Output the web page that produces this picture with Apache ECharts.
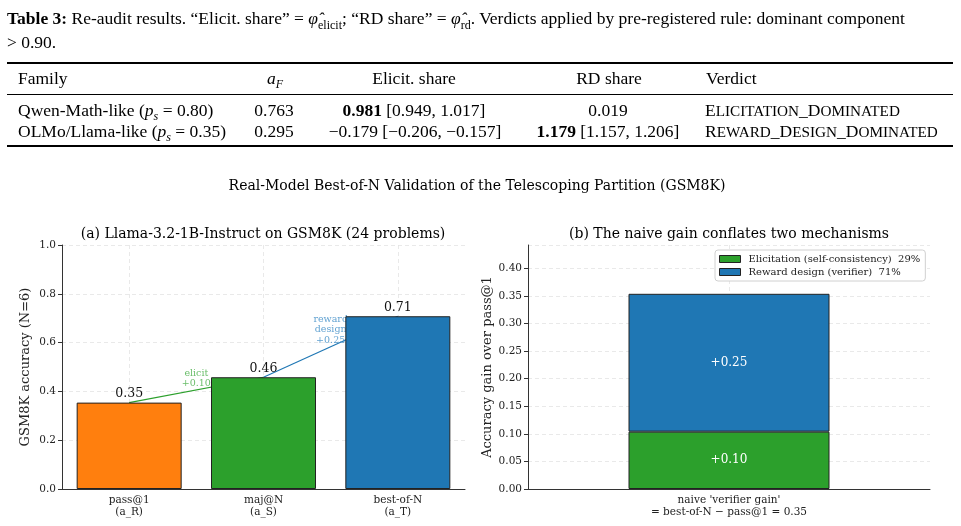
<!DOCTYPE html>
<html>
<head>
<meta charset="utf-8">
<script src="https://cdn.jsdelivr.net/npm/echarts@6/dist/echarts.min.js"></script>
<style>
  body { margin: 0; background: #fff; }
  #main { position: absolute; left: 0; top: 0; width: 961px; height: 526px; }
  #tbl { position: absolute; left: 0; top: 0; width: 961px; height: 160px; font-family: 'Liberation Serif', serif; font-size: 17.5px; color: #000; z-index: 2; }
  #tbl .cap { position: absolute; left: 7px; top: 6px; width: 950px; line-height: 24px; }
  #tbl .rule { position: absolute; left: 7px; width: 946px; background: #000; }
  #tbl .c { position: absolute; white-space: nowrap; transform: translate(-50%, -50%); }
  #tbl .l { position: absolute; white-space: nowrap; transform: translateY(-50%); }
  #tbl sub { font-size: 12px; line-height: 0; }
  .sm { font-size: 0.87em; }
</style>
</head>
<body>
<div id="main"></div>
<div id="tbl">
  <div class="cap"><b>Table 3:</b> Re-audit results. “Elicit. share” = <i>φ̂</i><sub>elicit</sub>; “RD share” = <i>φ̂</i><sub>rd</sub>. Verdicts applied by pre-registered rule: dominant component<br>&gt; 0.90.</div>
  <div class="rule" style="top:62px;height:2px"></div>
  <div class="l" style="left:18px;top:78px">Family</div>
  <div class="c" style="left:275px;top:78px"><i>a<sub>F</sub></i></div>
  <div class="c" style="left:414px;top:78px">Elicit. share</div>
  <div class="c" style="left:609px;top:78px">RD share</div>
  <div class="l" style="left:706px;top:78px">Verdict</div>
  <div class="rule" style="top:94px;height:1px"></div>
  <div class="l" style="left:18px;top:110px">Qwen-Math-like (<i>p<sub>s</sub></i> = 0.80)</div>
  <div class="c" style="left:274px;top:110px">0.763</div>
  <div class="c" style="left:414px;top:110px"><b>0.981</b> [0.949, 1.017]</div>
  <div class="c" style="left:608px;top:110px">0.019</div>
  <div class="l" style="left:705px;top:110px">E<span class="sm">LICITATION</span>_D<span class="sm">OMINATED</span></div>
  <div class="l" style="left:18px;top:131px">OLMo/Llama-like (<i>p<sub>s</sub></i> = 0.35)</div>
  <div class="c" style="left:274px;top:131px">0.295</div>
  <div class="c" style="left:415px;top:131px">−0.179 [−0.206, −0.157]</div>
  <div class="c" style="left:608px;top:131px"><b>1.179</b> [1.157, 1.206]</div>
  <div class="l" style="left:705px;top:131px">R<span class="sm">EWARD</span>_D<span class="sm">ESIGN</span>_D<span class="sm">OMINATED</span></div>
  <div class="rule" style="top:145px;height:2px"></div>
</div>
<script>
// panel (a): accuracy per decoding rule
var accCategories = ['pass@1\n(a_R)', 'maj@N\n(a_S)', 'best-of-N\n(a_T)'];
var accValues = [0.354, 0.458, 0.708];
var accColors = ['#ff7f0e', '#2ca02c', '#1f77b4'];

// annotations between bars
var elicitLine = [[0, 0.354], [1, 0.458]];
var rdLine = [[1, 0.458], [2, 0.708]];
var annotPoints = [[0.5, 0.406], [1.5, 0.583]];
var annotTexts = ['elicit\n+0.10', 'reward\ndesign\n+0.25'];

// panel (b): decomposition of the naive gain
var gainCategory = ["naive 'verifier gain'\n= best-of-N \u2212 pass@1 = 0.35"];
var elicitGain = [0.104];
var rdGain = [0.25];
var gainNames = ['Elicitation (self-consistency)', 'Reward design (verifier)'];

var serif = 'DejaVu Serif';
var axisCol = '#333';
var gridStyle = { color: '#e3e3e3', type: [4, 3], width: 0.8 };
var tickFont = 10.5;

var total = elicitGain[0] + rdGain[0];
var pct = {};
pct[gainNames[0]] = Math.round(elicitGain[0] / total * 100);
pct[gainNames[1]] = Math.round(rdGain[0] / total * 100);

function catAxis(grid, data) {
    return {
        type: 'category', gridIndex: grid, data: data,
        axisLine: { lineStyle: { color: axisCol, width: 1 } },
        axisTick: { alignWithLabel: true, length: 4, lineStyle: { color: axisCol } },
        axisLabel: { fontSize: tickFont, color: '#222', margin: 5, lineHeight: 12 },
        splitLine: { show: true, alignWithLabel: true, lineStyle: gridStyle }
    };
}

function valAxis(grid, max, step, digits, name, gap) {
    return {
        type: 'value', gridIndex: grid, min: 0, max: max, interval: step,
        name: name, nameLocation: 'middle', nameGap: gap,
        nameTextStyle: { fontSize: 13, color: '#222' },
        axisLine: { show: true, onZero: false, lineStyle: { color: axisCol, width: 1 } },
        axisTick: { show: true, length: 4, lineStyle: { color: axisCol } },
        axisLabel: { fontSize: tickFont, color: '#222', margin: 6, showMaxLabel: digits === 1,
            formatter: function (v) { return v.toFixed(digits); } },
        splitLine: { show: true, lineStyle: gridStyle }
    };
}

var chart = echarts.init(document.getElementById('main'));
var option = {
    animation: false,
    textStyle: { fontFamily: serif },
    graphic: [
        { type: 'text', style: { x: 477, y: 186, text: 'Real-Model Best-of-N Validation of the Telescoping Partition (GSM8K)', font: '14px "DejaVu Serif"', fill: '#000', align: 'center', verticalAlign: 'middle' } },
        { type: 'text', style: { x: 263, y: 234, text: '(a) Llama-3.2-1B-Instruct on GSM8K (24 problems)', font: '14px "DejaVu Serif"', fill: '#000', align: 'center', verticalAlign: 'middle' } },
        { type: 'text', style: { x: 729, y: 234, text: '(b) The naive gain conflates two mechanisms', font: '14px "DejaVu Serif"', fill: '#000', align: 'center', verticalAlign: 'middle' } }
    ],
    grid: [
        { left: 62, top: 245, width: 403, height: 244 },
        { left: 528, top: 245, width: 402, height: 244 }
    ],
    legend: {
        data: gainNames,
        orient: 'vertical',
        left: 715, top: 250,
        icon: 'rect',
        itemWidth: 21, itemHeight: 7, itemGap: 3,
        backgroundColor: '#fff',
        borderColor: '#d0d0d0', borderWidth: 1, borderRadius: 3,
        padding: [4, 5, 4, 4],
        itemStyle: { borderColor: '#222', borderWidth: 1 },
        textStyle: { fontFamily: serif, fontSize: 10, color: '#222', padding: [0, 0, 0, 3] },
        formatter: function (name) { return name + '  ' + pct[name] + '%'; }
    },
    xAxis: [
        catAxis(0, accCategories),
        { type: 'value', gridIndex: 0, min: -0.5, max: 2.5, show: false },
        catAxis(1, gainCategory)
    ],
    yAxis: [
        valAxis(0, 1, 0.2, 1, 'GSM8K accuracy (N=6)', 30),
        valAxis(1, 0.4425, 0.05, 2, 'Accuracy gain over pass@1', 34)
    ],
    series: [
        {
            type: 'line', xAxisIndex: 1, yAxisIndex: 0, data: elicitLine,
            symbol: 'none', z: 1, lineStyle: { color: '#2ca02c', width: 1.2 }
        },
        {
            type: 'line', xAxisIndex: 1, yAxisIndex: 0, data: rdLine,
            symbol: 'none', z: 1, lineStyle: { color: '#1f77b4', width: 1.2 }
        },
        {
            type: 'scatter', xAxisIndex: 1, yAxisIndex: 0, symbolSize: 0, z: 1,
            data: annotPoints.map(function (p, i) {
                return {
                    value: p,
                    label: {
                        show: true, position: 'top', distance: 1,
                        formatter: annotTexts[i], fontSize: 9.5, lineHeight: 10.5,
                        color: i === 0 ? '#44ad44' : '#3b8bc6', align: 'center'
                    }
                };
            })
        },
        {
            type: 'bar', xAxisIndex: 0, yAxisIndex: 0, barWidth: 105, z: 5,
            data: accValues.map(function (v, i) {
                return { value: v, itemStyle: { color: accColors[i] } };
            }),
            itemStyle: { borderColor: '#222', borderWidth: 1 },
            label: {
                show: true, position: 'top', distance: 2, fontSize: 12.5, color: '#111',
                formatter: function (p) { return p.value.toFixed(2); }
            }
        },
        {
            name: gainNames[0], type: 'bar', xAxisIndex: 2, yAxisIndex: 1, stack: 'gain', barWidth: 201,
            data: elicitGain, z: 5,
            itemStyle: { color: '#2ca02c', borderColor: '#222', borderWidth: 1 },
            label: { show: true, position: 'inside', fontSize: 12, color: '#fff', formatter: function (p) { return '+' + p.value.toFixed(2); } }
        },
        {
            name: gainNames[1], type: 'bar', xAxisIndex: 2, yAxisIndex: 1, stack: 'gain', barWidth: 201,
            data: rdGain, z: 5,
            itemStyle: { color: '#1f77b4', borderColor: '#222', borderWidth: 1 },
            label: { show: true, position: 'inside', fontSize: 12, color: '#fff', formatter: function (p) { return '+' + p.value.toFixed(2); } }
        }
    ]
};
chart.setOption(option);
</script>
</body>
</html>
